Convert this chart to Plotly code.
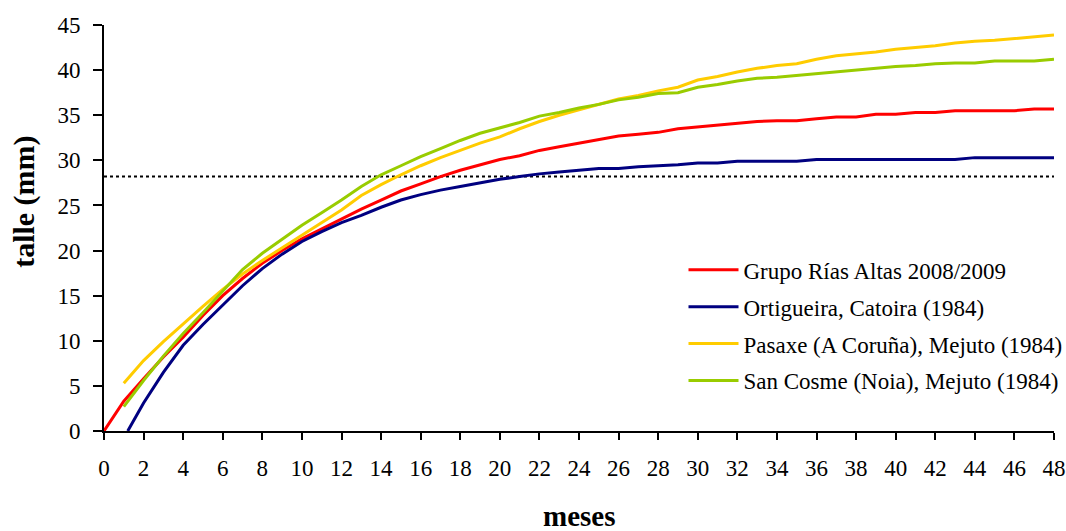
import plotly.graph_objects as go

# ---- data ----
meses = list(range(0, 49))

grupo_rias_altas = [0.0, 3.3, 5.8, 8.2, 10.4, 12.8, 15.0, 16.9, 18.6, 20.0, 21.3, 22.4, 23.5,
                    24.6, 25.6, 26.6, 27.4, 28.2, 28.9, 29.5, 30.1, 30.5, 31.1, 31.5, 31.9,
                    32.3, 32.7, 32.9, 33.1, 33.5, 33.7, 33.9, 34.1, 34.3, 34.4, 34.4, 34.6,
                    34.8, 34.8, 35.1, 35.1, 35.3, 35.3, 35.5, 35.5, 35.5, 35.5, 35.7, 35.7]

ortigueira_x = [1.2] + list(range(2, 49))
ortigueira = [0.0, 3.1, 6.5, 9.5, 11.8, 13.9, 16.1, 18.0, 19.6, 21.0, 22.1, 23.1, 23.9,
              24.8, 25.6, 26.2, 26.7, 27.1, 27.5, 27.9, 28.2, 28.5, 28.7, 28.9, 29.1,
              29.1, 29.3, 29.4, 29.5, 29.7, 29.7, 29.9, 29.9, 29.9, 29.9, 30.1, 30.1,
              30.1, 30.1, 30.1, 30.1, 30.1, 30.1, 30.3, 30.3, 30.3, 30.3, 30.3]

pasaxe_x = list(range(1, 49))
pasaxe = [5.3, 7.8, 9.9, 11.9, 13.8, 15.7, 17.4, 18.9, 20.3, 21.7, 23.1, 24.5, 26.1,
          27.3, 28.4, 29.4, 30.3, 31.1, 31.9, 32.6, 33.5, 34.3, 35.0, 35.6, 36.2,
          36.8, 37.2, 37.7, 38.1, 38.9, 39.3, 39.8, 40.2, 40.5, 40.7, 41.2, 41.6,
          41.8, 42.0, 42.3, 42.5, 42.7, 43.0, 43.2, 43.3, 43.5, 43.7, 43.9]

san_cosme_x = list(range(1, 49))
san_cosme = [2.7, 5.6, 8.3, 10.8, 13.1, 15.5, 17.9, 19.7, 21.3, 22.8, 24.2, 25.6, 27.1,
             28.4, 29.4, 30.4, 31.3, 32.2, 33.0, 33.6, 34.2, 34.9, 35.3, 35.8, 36.2,
             36.7, 37.0, 37.4, 37.5, 38.1, 38.4, 38.8, 39.1, 39.2, 39.4, 39.6, 39.8,
             40.0, 40.2, 40.4, 40.5, 40.7, 40.8, 40.8, 41.0, 41.0, 41.0, 41.2]

umbral = 28.2
x_ticks = list(range(0, 49, 2))
y_ticks = list(range(0, 46, 5))

names = ["Grupo Rías Altas 2008/2009", "Ortigueira, Catoira (1984)",
         "Pasaxe (A Coruña), Mejuto (1984)", "San Cosme (Noia), Mejuto (1984)"]
colors = ["#FF0000", "#000080", "#FFCC00", "#99CC00"]

FONT = "Liberation Serif"

fig = go.Figure()
series = [(meses, grupo_rias_altas), (ortigueira_x, ortigueira),
          (pasaxe_x, pasaxe), (san_cosme_x, san_cosme)]
for i, ((xs, ys), nm, c) in enumerate(zip(series, names, colors)):
    fig.add_trace(go.Scatter(x=xs, y=ys, mode="lines", name=nm,
                             line=dict(color=c, width=3), legendgroup=f"g{i}"))

fig.add_shape(type="line", xref="x", yref="y", x0=x_ticks[0], x1=x_ticks[-1],
              y0=umbral, y1=umbral, line=dict(color="black", width=2, dash="dot"),
              layer="below")

fig.update_layout(
    width=1066, height=531,
    margin=dict(l=104, r=12, t=25, b=100, autoexpand=False),
    paper_bgcolor="white", plot_bgcolor="white",
    font=dict(family=FONT, size=23, color="black"),
    showlegend=True,
    legend=dict(x=0.61, y=0.45, xanchor="left", yanchor="top",
                bgcolor="rgba(0,0,0,0)", font=dict(size=23, family=FONT),
                tracegroupgap=4, itemwidth=50),
    xaxis=dict(range=[0, 48], tickvals=x_ticks, showgrid=False, zeroline=False,
               showline=True, linecolor="black", linewidth=2, automargin=False,
               ticks="outside", ticklen=7, tickwidth=1.5, tickcolor="black",
               ticklabelstandoff=8, tickfont=dict(size=23)),
    yaxis=dict(range=[0, 45], tickvals=y_ticks, showgrid=False, zeroline=False,
               showline=True, linecolor="black", linewidth=2, automargin=False,
               ticks="outside", ticklen=9, tickwidth=1.5, tickcolor="black",
               ticklabelstandoff=8, tickfont=dict(size=23)),
    annotations=[
        dict(text="<b>meses</b>", xref="paper", yref="paper", x=0.5, y=-0.21,
             xanchor="center", yanchor="middle", showarrow=False,
             font=dict(size=29, family=FONT)),
        dict(text="<b>talle (mm)</b>", xref="paper", yref="paper", x=-0.085, y=0.565,
             xanchor="center", yanchor="middle", showarrow=False, textangle=-90,
             font=dict(size=30, family=FONT)),
    ],
)

fig.write_html("out.html", config={"displayModeBar": False},
               post_script="document.body.style.margin='0';"
                           "document.body.style.overflow='hidden';")
